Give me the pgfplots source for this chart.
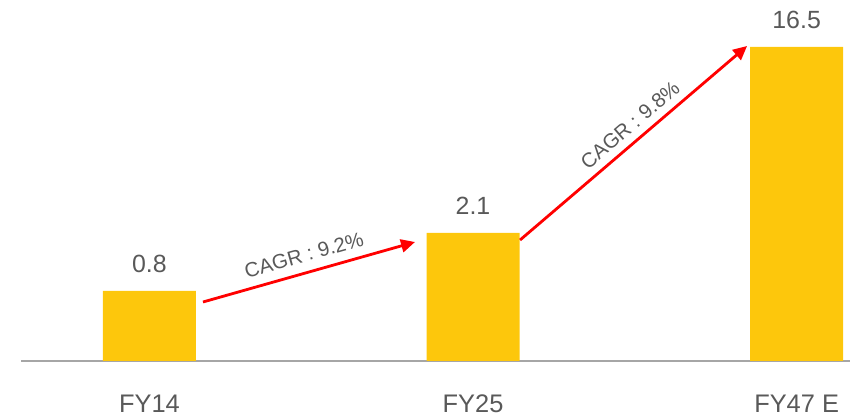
\documentclass[border=0pt]{standalone}
\usepackage{pgfplots}
\pgfplotsset{compat=1.18}
\usepackage{fontspec}
\setmainfont{Liberation Sans}
\usetikzlibrary{arrows.meta}
\definecolor{baryellow}{RGB}{253,199,12}
\definecolor{txtgray}{RGB}{89,89,89}
\definecolor{axgray}{RGB}{166,166,166}
\begin{document}
\begin{tikzpicture}
\path[use as bounding box] (0,0) rectangle (859bp,420bp);
\begin{axis}[
  at={(21bp,59bp)}, anchor=south west,
  width=829bp, height=361bp, scale only axis,
  xmin=-0.397, xmax=2.165, ymin=0, ymax=361,
  axis x line*=bottom, axis y line=none,
  x axis line style={axgray, line width=1.6bp, -},
  xtick=data, xticklabels={FY14, FY25, FY47 E},
  xtick style={draw=none},
  xticklabel style={font=\fontsize{25.5}{25.5}\selectfont, text=txtgray, anchor=base, yshift=-51bp},
  ytick=\empty,
  clip=false,
  point meta=explicit symbolic,
  nodes near coords,
  nodes near coords style={font=\fontsize{25}{25}\selectfont, text=txtgray, anchor=base, yshift=18bp},
]
\addplot[ybar, bar width=93bp, fill=baryellow, draw=none] coordinates {
  (0,70) [0.8]
  (1,128) [2.1]
  (2,314) [16.5]
};
\draw[red, line width=2.8bp, -{Triangle[length=14bp,width=13bp]}] (axis cs:0.1654,59) -- (axis cs:0.8207,119);
\draw[red, line width=2.8bp, -{Triangle[length=14bp,width=13bp]}] (axis cs:1.1453,121) -- (axis cs:1.847,315);
\node[rotate=15.8, text=txtgray, font=\fontsize{20.5}{20.5}\selectfont] at (axis cs:0.4776,106) {CAGR : 9.2\%};
\node[rotate=40.5, text=txtgray, font=\fontsize{20.5}{20.5}\selectfont] at (axis cs:1.4853,236) {CAGR : 9.8\%};
\end{axis}
\end{tikzpicture}
\end{document}
